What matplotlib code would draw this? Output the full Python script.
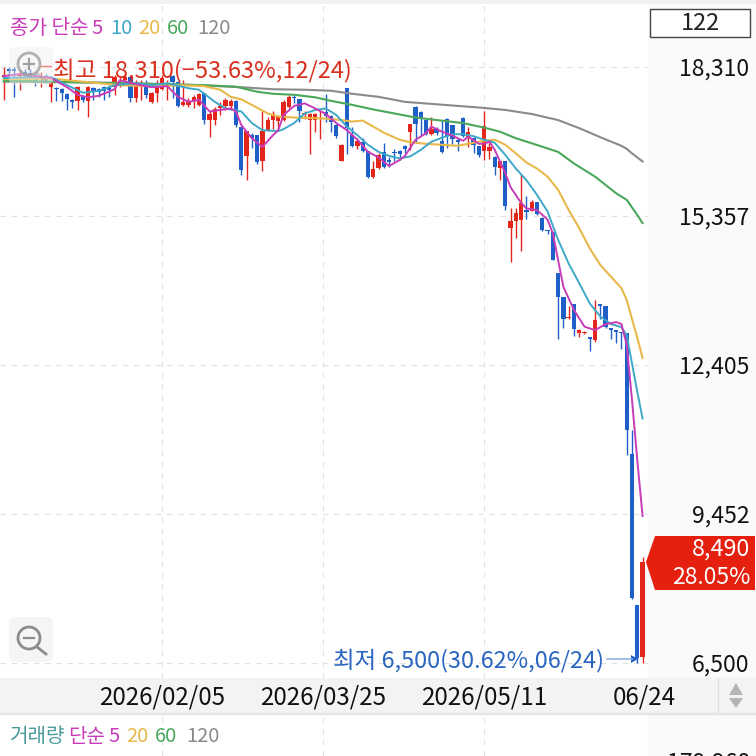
import matplotlib
matplotlib.use("Agg")
import matplotlib.pyplot as plt
from matplotlib.patches import Rectangle, Polygon, Circle, FancyBboxPatch

plt.rcParams['font.family'] = ['Noto Sans CJK KR', 'DejaVu Sans']
plt.rcParams['font.weight'] = 500

# daily candles, oldest first (122 sessions)
opens = [18100,18270,18270,18120,18210,18190,18100,18080,18120,17900,17890,17860,17770,17650,17630,17730,17630,17880,17860,17900,
         17910,17900,17980,18040,18110,17680,17900,17990,17610,17790,17860,17940,18120,18010,17540,17550,17630,17550,17780,17250,
         17250,17480,17520,17530,17630,17120,16530,16950,16950,16430,17050,17260,17240,17250,17500,17710,17660,17360,17260,17260,
         17280,17400,17340,17150,16440,17880,16950,16740,16820,16640,16120,16310,16620,16460,16620,16640,16740,17020,17500,17400,
         17260,16970,17070,16840,17280,17150,16860,17300,16910,16890,16740,16640,16640,16510,16310,16440,15110,15260,15270,15470,
         15450,15620,15320,15070,15040,14230,13750,13340,13610,13040,13030,12950,12900,13610,13570,13130,13090,13060,13040,10640,
         7640,6620]
closes = [18140,18230,18230,18160,18120,18120,18010,18120,18040,17990,17860,17780,17670,17610,17900,17650,17900,17810,17810,17830,
          17850,18100,18010,18100,17680,17990,17990,17750,17780,17980,18080,17990,18010,17530,17610,17610,17710,17760,17250,17370,
          17460,17530,17650,17630,17150,16260,17030,16890,16410,17040,17260,17360,17340,17610,17700,17680,17430,17380,17370,17370,
          17300,17340,17220,16930,16760,17090,16740,16840,16640,16120,16280,16550,16330,16420,16590,16580,16680,17170,17170,17280,
          16970,17070,17000,16620,16940,16870,16820,16940,17010,16760,16560,17130,16720,16330,16430,15550,15250,15400,15600,15420,
          15630,15390,15070,15050,14480,13750,13320,13360,13120,13090,13060,12920,13300,13570,13150,13090,13060,13030,11110,7790,
          6590,8490]
highs = [18310,18310,18300,18270,18270,18270,18180,18210,18160,18040,17900,17880,17780,17660,17920,17750,17920,17910,17880,17920,
         17940,18140,18110,18140,18120,18040,18040,18040,17810,18040,18140,18040,18140,18020,18040,17680,17750,17780,17790,17420,
         17500,17610,17680,17660,17640,17120,17040,16990,16960,17420,17320,17420,17350,17650,17750,17750,17670,17420,17380,17380,
         17450,17770,17350,17170,16780,17880,17120,16890,16890,16640,16430,16590,16800,16510,16680,16660,16760,17180,17530,17420,
         17280,17320,17120,17260,17290,17160,16890,17320,17110,16910,16740,17420,16800,16530,16430,16440,15500,15500,16180,15750,
         15670,15630,15330,15080,15040,14230,13750,13560,13610,13110,13080,12950,13690,13610,13570,13130,13090,13060,13040,11110,
         7640,8600]
lows = [17650,18040,17700,17850,18010,18040,17920,17900,17980,17610,17630,17630,17440,17480,17440,17610,17320,17650,17710,17650,
        17710,17750,17900,17940,17610,17610,17650,17680,17580,17610,17850,17650,17680,17510,17530,17510,17480,17530,17170,16920,
        17150,17350,17450,17450,17120,16160,16060,16690,16380,16250,17040,17070,17050,17240,17480,17580,17220,17280,16570,17020,
        16870,17220,17020,16890,16430,16580,16720,16670,16620,16110,16100,16290,16310,16330,16430,16460,16590,16660,16790,16950,
        16950,16950,16950,16600,16690,16780,16640,16920,16720,16600,16510,16450,16470,16160,16060,15460,14430,14910,14660,15300,
        15440,15370,15060,14990,14480,12920,13140,13320,12970,12960,13010,12680,12860,13320,13130,12910,12830,12710,10620,7770,
        6500,6500]

ma5_idx = [0,3,6,9,12,14,16,18,21,22,25,28,31,33,35,37,39,41,43,44,45,47,49,51,52,53,55,57,59,61,63,65,67,69,71,73,75,76,78,80,81,
           83,85,87,88,90,91,92,93,95,96,98,99,101,103,104,105,106,108,110,112,114,116,117,118,119,120,121]
ma5_val = [18120,18160,18120,18080,17900,17750,17700,17730,17860,18040,17960,17900,17920,17710,17610,17650,17420,17450,17480,17420,
           17150,16890,16720,16950,17050,17350,17530,17580,17480,17370,17190,17050,16860,16620,16510,16340,16460,16540,16860,16990,
           17120,17020,16940,16840,16920,16780,16780,16820,16660,16200,15920,15610,15500,15470,15280,15010,14480,13950,13490,13160,
           13090,13210,13250,13210,12800,11710,10520,9410]
ma10_idx = [0,5,9,12,15,18,21,25,28,31,35,37,40,42,45,47,49,52,53,55,57,59,61,63,65,67,69,71,73,75,77,79,81,83,85,87,89,91,93,95,97,
            99,101,103,105,107,109,111,113,115,117,118,119,120,121]
ma10_val = [18080,18100,18100,17940,17790,17830,17940,17980,17940,17980,17880,17850,17610,17480,17420,17190,17050,17030,17070,17190,
            17380,17450,17480,17350,17120,16950,16760,16620,16540,16490,16530,16660,16820,16900,16970,16970,16930,16860,16800,16560,
            16290,16060,15770,15440,14880,14410,14020,13620,13360,13210,13150,12990,12430,11870,11340]
ma20_idx = [0,9,12,18,22,28,34,38,41,43,45,47,50,52,55,61,64,66,68,70,72,75,77,80,83,86,89,91,93,95,97,99,101,103,105,107,109,111,
            113,115,117,118,119,120,121]
ma20_val = [18060,18070,18040,17980,17940,17920,17940,17920,17850,17710,17660,17550,17380,17320,17300,17280,17250,17220,17240,17120,
            17000,16860,16810,16780,16760,16740,16800,16840,16860,16760,16590,16410,16290,16130,15870,15470,15110,14710,14380,14150,
            13920,13690,13310,12940,12540]
ma60_idx = [0,10,20,30,38,44,48,51,55,59,62,66,70,74,78,82,87,91,94,97,100,105,108,112,116,118,120,121]
ma60_val = [18030,18010,17980,17960,17940,17910,17810,17770,17750,17700,17630,17550,17460,17380,17300,17250,17190,17100,17020,16890,
            16790,16620,16390,16130,15800,15670,15370,15210]
ma120_idx = [0,20,35,45,51,57,62,66,71,76,81,86,91,95,100,105,109,113,117,118,119,120,121]
ma120_val = [18010,17990,17950,17900,17860,17850,17830,17770,17710,17610,17570,17530,17490,17450,17370,17250,17090,16910,16740,16680,
             16590,16510,16430]

ytick_vals = [18310, 15357, 12405, 9452, 6500]
ytick_labels = ["18,310", "15,357", "12,405", "9,452", "6,500"]
xtick_pos = [30, 60.4, 91, 121.4]
xtick_labels = ["2026/02/05", "2026/03/25", "2026/05/11", "06/24"]

RED = "#e3261b"
BLUE = "#1f5fc8"
GRID = "#e2e2e2"
C5, C10, C20, C60, C120 = "#c83cb8", "#3ea8c8", "#e8b84a", "#4aa85a", "#8a8a8a"

W = 756.0
fig = plt.figure(figsize=(7.56, 7.56), dpi=100, facecolor="white")

# backgrounds behind the axes
fig.add_artist(Rectangle((648/W, 0), 108/W, 1, transform=fig.transFigure, color="#fafafa", zorder=-2))
fig.add_artist(Rectangle((0, (W-713)/W), 1, 35/W, transform=fig.transFigure, color="#f3f3f3", zorder=-1))
fig.add_artist(Rectangle((0, (W-714)/W), 1, 1.5/W, transform=fig.transFigure, color="#e4e4e4", zorder=-1))

ax = fig.add_axes([0, (W-678)/W, 648/W, 678/W])
ax.set_xlim(-0.70, 122.03)
ax.set_ylim(6203, 19627)
for s in ax.spines.values():
    s.set_visible(False)

for v in ytick_vals:
    ax.axhline(v, color=GRID, lw=0.8, ls=(0, (5, 5)), zorder=0)
for p in xtick_pos[:3]:
    ax.axvline(p, color=GRID, lw=0.8, ls=(0, (5, 5)), zorder=0)

for i in range(len(opens)):
    col = RED if closes[i] >= opens[i] else BLUE
    ax.vlines(i, lows[i], highs[i], color=col, lw=1.0, zorder=2)
    ax.bar(i, abs(closes[i]-opens[i]), bottom=min(opens[i], closes[i]), width=0.82, color=col, zorder=3)

ax.plot(ma120_idx, ma120_val, color=C120, lw=1.5, zorder=4)
ax.plot(ma60_idx, ma60_val, color=C60, lw=1.5, zorder=4)
ax.plot(ma20_idx, ma20_val, color=C20, lw=1.5, zorder=4)
ax.plot(ma10_idx, ma10_val, color=C10, lw=1.4, zorder=4)
ax.plot(ma5_idx, ma5_val, color=C5, lw=1.4, zorder=4)

ax.yaxis.tick_right()
ax.set_yticks(ytick_vals)
ax.set_yticklabels(ytick_labels, ha="right", va="center_baseline", fontsize=16.6, color="#111111")
ax.tick_params(axis="y", length=0, pad=73)
ax.set_xticks(xtick_pos)
ax.set_xticklabels(xtick_labels, fontsize=17.4, color="#111111")
ax.tick_params(axis="x", length=0, pad=4.5)

# empty volume panel, only its grid shows
vol = fig.add_axes([0, 0, 648/W, 43/W])
vol.set_xlim(-0.70, 122.03)
vol.axis("off")
for p in xtick_pos[:3]:
    vol.axvline(p, color=GRID, lw=0.8, ls=(0, (5, 5)))

# overlay in pixel coordinates for the app furniture
ui = fig.add_axes([0, 0, 1, 1], zorder=5)
ui.set_xlim(0, W)
ui.set_ylim(W, 0)
ui.axis("off")
ui.add_patch(Rectangle((0, 0), W, 4, color="#f1f1f1", lw=0))

def piece(x, y, s, c, size=14.5):
    ui.text(x, y, s, color=c, fontsize=size, va="center", ha="left", fontweight=500)

piece(10, 28, "종가 단순", C5)
piece(91, 28, "5", C5)
piece(110, 28, "10", C10)
piece(138, 28, "20", C20)
piece(167, 28, "60", C60)
piece(197, 28, "120", C120)

piece(10, 737, "거래량", "#4a9a9a")
piece(68, 737, "단순", C5)
piece(108, 737, "5", C5)
piece(126, 737, "20", C20)
piece(155, 737, "60", C60)
piece(186, 737, "120", C120)

ui.text(750, 763, "179,968", fontsize=16.6, color="#111111", ha="right", va="center", clip_on=True)

ui.add_patch(Rectangle((650, 9), 100, 28, facecolor="white", edgecolor="#444444", lw=1))
ui.text(700, 23, "122", fontsize=17, color="#222222", ha="center", va="center")

# high / low callouts
ui.text(53, 70, "최고 18,310(−53.63%,12/24)", color="#d8301f", fontsize=17, ha="left", va="center")
ui.plot([41, 51], [66, 66], color="#e88a80", lw=1)
ui.text(333, 661, "최저 6,500(30.62%,06/24)", color="#2a66c0", fontsize=16.9, ha="left", va="center")
ui.plot([607, 632], [659, 659], color="#8fb4e0", lw=1.2)
ui.add_patch(Polygon([(631, 655), (638, 659), (631, 663)], closed=True, color=BLUE, lw=0))

# last price tag
ui.add_patch(Polygon([(646, 562), (655, 536), (755, 536), (755, 590), (655, 590)], closed=True, color="#e5200f", lw=0))
ui.text(750, 549, "8,490", color="white", fontsize=16.8, ha="right", va="center")
ui.text(750, 577, "28.05%", color="white", fontsize=16.6, ha="right", va="center")

# zoom buttons
ui.add_patch(FancyBboxPatch((12, 50), 38, 32, boxstyle="round,pad=3,rounding_size=6", facecolor="#eeeeee", edgecolor="none", alpha=0.45))
ui.add_patch(Circle((29, 64), 11, fill=False, edgecolor="#a0a0a0", lw=2, alpha=0.8))
ui.plot([24, 34], [64, 64], color="#a0a0a0", lw=1.6)
ui.plot([29, 29], [59, 69], color="#a0a0a0", lw=1.6)
ui.plot([37, 45], [73, 81], color="#a0a0a0", lw=2, alpha=0.5)

ui.add_patch(FancyBboxPatch((12, 620), 38, 39, boxstyle="round,pad=3,rounding_size=6", facecolor="#f5f5f5", edgecolor="none"))
ui.add_patch(Circle((29, 638), 11, fill=False, edgecolor="#8c8c8c", lw=2))
ui.plot([24, 34], [638, 638], color="#8c8c8c", lw=1.6)
ui.plot([37, 46], [647, 654], color="#8c8c8c", lw=2)

# scroll arrows on the date band
ui.plot([718, 718], [678, 712], color="#e0e0e0", lw=1)
ui.add_patch(Polygon([(729, 695), (743, 695), (736, 683)], closed=True, color="#b5b5b5", lw=0))
ui.add_patch(Polygon([(729, 698), (743, 698), (736, 708)], closed=True, color="#b5b5b5", lw=0))

fig.savefig("out.png", dpi=100)
